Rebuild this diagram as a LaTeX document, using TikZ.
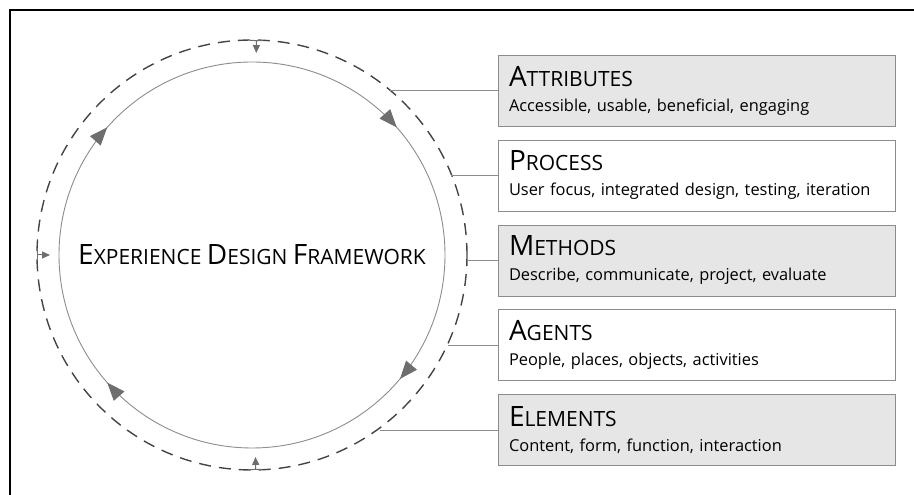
\documentclass[tikz,border=0pt]{standalone}
\usepackage{fontspec}
\setmainfont{Open Sans}
\usetikzlibrary{arrows.meta, positioning, decorations.markings, calc}

\definecolor{boxgray}{HTML}{E6E6E6}
\definecolor{linegray}{HTML}{8C8C8C}
\definecolor{dashgray}{HTML}{444444}
\definecolor{headgray}{HTML}{6E6E6E}

% fake small caps: first letter big, rest small
\newcommand{\scword}[2]{{\fontsize{28pt}{25pt}\selectfont #1}{\fontsize{21pt}{25pt}\selectfont #2}}
\newcommand{\scspace}{{\fontsize{21pt}{25pt}\selectfont\ }}

\begin{document}
\begin{tikzpicture}[
            x = 1pt, y = 1pt, % one unit per pixel
            > = {Triangle[length=18pt, width=14pt, color=headgray]}, % arrow head style
            node distance = 13.5pt, % distance between boxes
            thin % line style
        ]

        \tikzstyle{area}=[
            draw = linegray,
            fill = white,
            minimum width = 397pt,
            minimum height = 71pt,
            text width = 375pt,
            inner xsep = 11pt,
            align = left,
            font = \fontsize{16.4pt}{25pt}\selectfont
        ]
        \tikzstyle{shaded area}=[area, fill = boxgray]
        \tikzstyle{ring}=[draw = linegray, line width = 0.9pt]
        \tikzstyle{outer ring}=[draw = dashgray, line width = 1.4pt, dash pattern = on 12pt off 8pt]
        \tikzstyle{link}=[draw = linegray, line width = 0.9pt]
        \tikzstyle{marker}=[draw = headgray, line width = 1pt,
            arrows = {Bar[width=13pt]-Triangle[length=8pt, width=7pt]}]

        \useasboundingbox (0,0) rectangle (914,495);
        \draw[line width = 2.6pt] (10,0) -- (10,485) -- (914,485);

        \coordinate (c) at (252,240);

        % the two rings
        \draw[ring, postaction = {decorate}, decoration = {markings,
                mark = at position 0.115 with {\arrowreversed{>}},
                mark = at position 0.385 with {\arrowreversed{>}},
                mark = at position 0.615 with {\arrowreversed{>}},
                mark = at position 0.889 with {\arrowreversed{>}}}]
            (c) circle [radius = 193pt];
        \draw[outer ring] (c) circle [radius = 215pt];

        \node (title) at (c) {\scword{E}{XPERIENCE}\scspace\scword{D}{ESIGN}\scspace\scword{F}{RAMEWORK}};

        \node[shaded area] (attr) at (696.5,404.5) {\scword{A}{TTRIBUTES}\\Accessible, usable, beneficial, engaging};
        \node[area] (proc) [below=of attr] {\scword{P}{ROCESS}\\User focus, integrated design, testing, iteration};
        \node[shaded area] (meth) [below=of proc] {\scword{M}{ETHODS}\\Describe, communicate, project, evaluate};
        \node[area] (agen) [below=of meth] {\scword{A}{GENTS}\\People, places, objects, activities};
        \node[shaded area] (elem) [below=of agen] {\scword{E}{LEMENTS}\\Content, form, function, interaction};

        % points on the dashed ring
        \foreach \n/\a in {attr/49.9, proc/22, meth/-1.1, agen/-24.2, elem/-53.4}
            \coordinate (\n-r) at ($(c)+(\a:215pt)$);
        \foreach \n/\a in {top/88.8, left/180, bottom/271}{
            \coordinate (\n-r) at ($(c)+(\a:215pt)$);
            \coordinate (\n-i) at ($(c)+(\a:202pt)$);
        }

        \draw[link] (attr.west) -- (attr.west -| attr-r);
        \draw[link] (proc.west) -- (proc.west -| proc-r);
        \draw[link, arrows = {-Bar[width=11pt]}] (meth.west) -- (meth.west -| meth-r);
        \draw[link] (agen.west) -- (agen.west -| agen-r);
        \draw[link] (elem.west) -- (elem.west -| elem-r);

        \draw[marker] (top-r) -- (top-i);
        \draw[marker] (left-r) -- (left-i);
        \draw[marker] (bottom-r) -- (bottom-i);

\end{tikzpicture}
\end{document}
